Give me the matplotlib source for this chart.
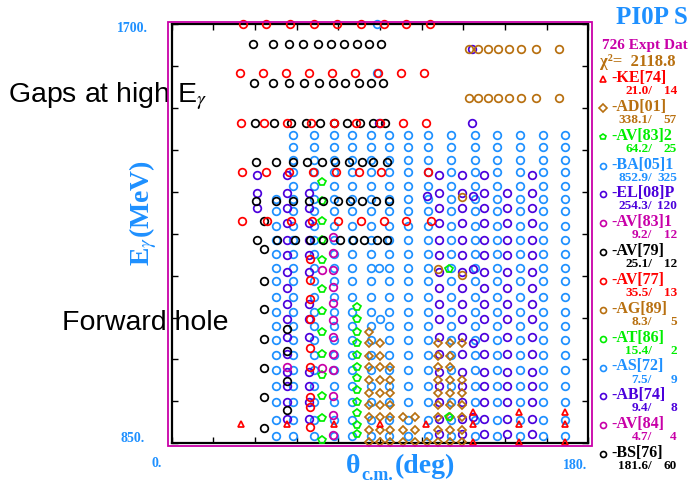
import matplotlib
matplotlib.use("Agg")
import matplotlib.pyplot as plt
from matplotlib.patches import Rectangle

plt.rcParams['mathtext.fontset'] = 'stix'
SERIF = 'Liberation Serif'
SANS = 'Liberation Sans'

BLUE = '#1E90FF'
VIOLET = '#4B00DC'
MAGENTA = '#C800A8'
BROWN = '#B87010'
GREEN = '#00EE00'
RED = '#FF0000'
BLACK = '#000000'

# ---------------- data (theta in deg, E_gamma in MeV) ----------------
# BA[05]1 : regular grid of angles / energies
ba_angles = [45, 52.5, 61.5, 70, 78, 86, 94, 102, 110.5, 120.5, 131, 140.5, 150.5, 160.5, 170]
ba_energies = [1475, 1450, 1425, 1400, 1372, 1345, 1320, 1290, 1263, 1234, 1205, 1178,
               1147, 1117, 1088, 1059, 1028, 998, 967, 933, 897, 865]
ba_first_full_row = 1345          # rows at or below this energy include 45 deg

# AS[72] (blue)
as_theta = [88.5, 88.5, 89.5, 90.0]
as_energy = [1700, 1600, 1205, 1101]

# EL[08]P (violet) : energies per angle
el_left = {
    36.9: [1394, 1358, 1327],
    49.8: [1394, 1358, 1327, 1296, 1263, 1232, 1197, 1165, 1132, 1101, 1065, 1032, 994, 967, 934, 900],
    59.5: [1358, 1327, 1296, 1263, 1232, 1197, 1132, 1101, 1065, 994, 967, 934, 900],
}
el_right_angles = [115.4, 125.3, 134.8, 144.7, 155.5]
el_right_energies = [1394, 1358, 1327, 1296, 1263, 1232, 1197, 1165, 1132, 1101,
                     1065, 1032, 994, 967, 934, 900, 869]

# AB[74] (violet)
ab_theta = [110.4, 130.2, 129.9, 129.9, 89.6, 130.0, 130.0, 130.0]
ab_energy = [1351, 1351, 1500, 1650, 1500, 1203, 1053, 904]

# BS[76] (black) : rows
bs_rows = {
    1660: [35.2, 43.6, 50.5, 56.8, 63.2, 68.9, 74.4, 79.9, 85.1, 90.5],
    1580: [35.5, 43.6, 50.8, 57.1, 63.5, 69.5, 74.9, 80.7, 85.9, 91.3],
    1500: [35.8, 44.2, 51.4, 58.0, 64.0, 70.1, 75.8, 81.3, 86.8, 92.2],
    1421: [36.3, 44.9, 52.2, 58.3, 65.0, 70.4, 76.7, 82.0, 87.0, 93.1],
    1341: [36.4, 45.0, 52.5, 59.1, 65.4, 71.9, 77.0, 82.3, 88.2, 93.7],
    1262: [36.7, 45.3, 53.2, 59.7, 65.4, 72.7, 78.1, 83.0, 88.5, 93.1],
}

# AV[79] (black)
av79_theta = [40.0, 40.0, 40.0, 40.0, 40.0, 40.0, 40.0, 40.0, 49.6, 49.6, 49.6, 49.6]
av79_energy = [1300, 1243, 1180, 1122, 1062, 1003, 943, 882, 1081, 1037, 977, 917]

# AV[77] (red circles)
av77_rows = {
    1700: [30.6, 40.7, 51.1, 61.4, 71.5, 81.6, 91.7, 101.4, 111.5],
    1600: [29.5, 39.3, 49.3, 59.3, 69.2, 79.2, 89.3, 99.1, 109.0],
    1500: [29.8, 39.8, 49.6, 60.0, 70.0, 79.8, 89.9, 100.0, 109.8],
    1400: [30.2, 40.6, 50.6, 60.9, 70.8, 80.9, 90.6, 110.8],
    1301: [30.2, 41.0, 51.4, 60.4, 71.7, 81.6, 91.7, 101.4, 111.8],
}
red_col_theta = 59.7
red_col_energy = [1223, 1182, 1142, 1101, 1043, 1004, 944, 923, 884]

# KE[74] (red triangles)
ke_theta = [30, 50, 70, 90, 110, 130, 130, 130, 150, 150, 150, 170, 170, 170]
ke_energy = [889, 889, 889, 889, 889, 914, 889, 853, 914, 889, 853, 914, 889, 853]

# AD[01] (brown diamonds) : angles per energy
ad_rows = {
    1076: [85.3],
    1053: [85.3, 89.9, 115.1, 120.1, 125.2],
    1027: [85.3, 89.9, 115.1, 120.1],
    1004: [85.3, 89.9, 94.5, 115.1, 120.1],
    978: [85.3, 89.9, 94.5, 115.1, 120.1, 125.2],
    951: [85.3, 89.9, 94.5, 115.1, 120.1, 125.2],
    928: [85.3, 89.9, 94.5, 115.1, 120.1, 125.2],
    903: [85.3, 89.9, 94.5, 100.0, 105.0, 115.1, 120.1, 125.2],
    877: [85.3, 89.9, 94.5, 100.0, 105.0, 115.1, 120.1, 125.2],
    853: [85.3, 89.9, 94.5, 100.0, 105.0, 110.1, 115.1, 120.1, 125.2],
}

# brown circles (AG[89] and high-energy rows)
brown_top_angles = [128.5, 132.3, 136.6, 140.9, 145.6, 151.1, 157.5, 167.2]
brown_top_energies = [1650, 1549]
ag_theta = [125.2, 115.1, 125.2]
ag_energy = [1350, 1203, 1191]

# AV[83]2 / AT[86] (green)
green_theta = [65.0] * 13 + [79.9] * 12 + [119.8, 119.8]
green_energy = [1380, 1341, 1301, 1262, 1221, 1162, 1119, 1076, 1032, 988, 946, 901, 857,
                1127, 1102, 1076, 1053, 1029, 1005, 982, 958, 934, 912, 887, 869,
                1203, 904]

# AV[83]1 / AV[84] (magenta)
mag_theta = [69.8] * 12 + [65.0, 65.0, 49.8]
mag_energy = [1269, 1235, 1201, 1167, 1134, 1100, 1066, 1032, 998, 946, 907, 867,
              1201, 1002, 1004]

legend_names = ['-KE[74]', '-AD[01]', '-AV[83]2', '-BA[05]1', '-EL[08]P', '-AV[83]1', '-AV[79]',
                '-AV[77]', '-AG[89]', '-AT[86]', '-AS[72]', '-AB[74]', '-AV[84]', '-BS[76]']
legend_chi = ['21.0', '338.1', '64.2', '852.9', '254.3', '9.2', '25.1',
              '35.5', '8.3', '15.4', '7.5', '9.4', '4.7', '181.6']
legend_npts = ['14', '57', '25', '325', '120', '12', '12', '13', '5', '2', '9', '8', '4', '60']
legend_colors = [RED, BROWN, GREEN, BLUE, VIOLET, MAGENTA, BLACK, RED, BROWN, GREEN, BLUE,
                 VIOLET, MAGENTA, BLACK]
legend_markers = ['^', 'D', 'p', 'o', 'o', 'o', 'o', 'o', 'o', 'o', 'o', 'o', 'o', 'o']

n_data = 726
chi2_total = 2118.8

# ---------------- figure ----------------
W, H = 691, 486
fig = plt.figure(figsize=(W / 100, H / 100), dpi=100)
ax = fig.add_axes([171.7 / W, 1 - 443.3 / H, 416.7 / W, 419.3 / H])
ax.set_xlim(0, 180)
ax.set_ylim(850, 1700)

circ = dict(ls='none', marker='o', mfc='none', ms=5.5, mew=1.25, clip_on=False)

# BA grid
bx, by = [], []
for e in ba_energies:
    for a in ba_angles:
        if a == ba_angles[0] and e > ba_first_full_row:
            continue
        bx.append(a)
        by.append(e)
ax.plot(bx, by, mec=BLUE, zorder=2, **circ)
ax.plot(as_theta, as_energy, mec=BLUE, zorder=2, **circ)

# violet
vx, vy = [], []
for a, es in el_left.items():
    vx += [a] * len(es)
    vy += es
for a in el_right_angles:
    for e in el_right_energies:
        if a == 144.7 and e == 1394:
            continue
        vx.append(a)
        vy.append(e)
ax.plot(vx, vy, mec=VIOLET, zorder=3, **circ)
ax.plot(ab_theta, ab_energy, mec=VIOLET, zorder=3, **circ)

# brown
tx, ty = [], []
for e in brown_top_energies:
    tx += brown_top_angles
    ty += [e] * len(brown_top_angles)
ax.plot(tx, ty, mec=BROWN, zorder=3, **circ)
ax.plot(ag_theta, ag_energy, mec=BROWN, zorder=3, **circ)
dx, dy = [], []
for e, angs in ad_rows.items():
    dx += angs
    dy += [e] * len(angs)
ax.plot(dx, dy, ls='none', marker='D', mfc='none', mec=BROWN, ms=4.4, mew=1.25,
        clip_on=False, zorder=3)

# green / magenta
ax.plot(green_theta, green_energy, ls='none', marker='p', mfc='none', mec=GREEN, ms=5.8,
        mew=1.25, clip_on=False, zorder=4)
ax.plot(mag_theta, mag_energy, mec=MAGENTA, zorder=4, **circ)

# black
kx, ky = [], []
for e, angs in bs_rows.items():
    kx += angs
    ky += [e] * len(angs)
ax.plot(kx, ky, mec=BLACK, zorder=4, **circ)
ax.plot(av79_theta, av79_energy, mec=BLACK, zorder=4, **circ)

# red
rx, ry = [], []
for e, angs in av77_rows.items():
    rx += angs
    ry += [e] * len(angs)
rx += [red_col_theta] * len(red_col_energy)
ry += red_col_energy
ax.plot(rx, ry, mec=RED, zorder=5, **circ)
ax.plot(ke_theta, ke_energy, ls='none', marker='^', mfc='none', mec=RED, ms=4.5, mew=1.25,
        clip_on=False, zorder=5)

# axes styling
for s in ax.spines.values():
    s.set_linewidth(1.6)
    s.set_color('black')
ax.set_xticks(range(0, 181, 18))
ax.set_yticks(range(850, 1701, 85))
ax.tick_params(direction='in', length=4.5, width=1, top=True, right=True,
               labelbottom=False, labelleft=False)

tick_font = dict(family=SERIF, weight='bold', size=10, color=BLUE)
ax.annotate('0.', xy=(0, 850), xycoords='data', xytext=(-15, -20), textcoords='offset pixels',
            ha='center', va='center', **tick_font)
ax.annotate('180.', xy=(180, 850), xycoords='data', xytext=(-13, -22), textcoords='offset pixels',
            ha='center', va='center', **tick_font)
ax.annotate('850.', xy=(0, 850), xycoords='data', xytext=(-27, 5), textcoords='offset pixels',
            ha='right', va='center', **tick_font)
ax.annotate('1700.', xy=(0, 1700), xycoords='data', xytext=(-24, -5), textcoords='offset pixels',
            ha='right', va='center', **tick_font)

fx = lambda p: p / W
fy = lambda p: 1 - p / H

# magenta frame
fig.patches.append(Rectangle((fx(167.5), fy(445.5)), (592 - 167.5) / W, (445.5 - 22) / H,
                             transform=fig.transFigure, fill=False, ec=MAGENTA, lw=1.3, zorder=10))

# axis labels
fig.text(fx(143), fy(213), r'E$_{\gamma}$(MeV)', rotation=90, ha='center', va='center',
         family=SERIF, weight='bold', size=20, color=BLUE)

renderer = fig.canvas.get_renderer()
lab_font = dict(family=SERIF, weight='bold', color=BLUE, va='baseline', ha='left')
xstart = 346
t1 = fig.text(fx(xstart), fy(473), 'θ', size=20, **lab_font)
w1 = t1.get_window_extent(renderer).width
t2 = fig.text(fx(xstart + w1 + 1), fy(480), 'c.m.', size=13, **lab_font)
w2 = t2.get_window_extent(renderer).width
fig.text(fx(xstart + w1 + w2 + 2), fy(473), '(deg)', size=20, **lab_font)

# annotations
fig.text(fx(7.5), fy(102), r'Gaps at high E$_{\gamma}$', ha='left', va='baseline',
         family=SANS, size=20.5, color='black')
fig.text(fx(62), fy(330), 'Forward hole', ha='left', va='baseline',
         family=SANS, size=20.5, color='black')

# right-hand legend
fig.text(fx(652), fy(17), 'PI0P S', ha='center', va='center', family=SERIF, weight='bold',
         size=18, color=BLUE)
fig.text(fx(602), fy(45), f'{n_data} Expt Dat', ha='left', va='center', family=SERIF,
         weight='bold', size=11, color=MAGENTA)
fig.text(fx(600), fy(62), f'χ²=  {chi2_total}', ha='left', va='center', family=SERIF,
         weight='bold', size=12, color=BROWN)

y0, dy_ = 78.0, 28.85
for i in range(len(legend_names)):
    yy = y0 + i * dy_
    c = legend_colors[i]
    fig.lines.append(plt.Line2D([fx(603)], [fy(yy + 1)], transform=fig.transFigure,
                                ls='none', marker=legend_markers[i], mfc='none', mec=c,
                                ms=4.3, mew=1.2))
    fig.text(fx(611), fy(yy), legend_names[i], ha='left', va='center', family=SERIF,
             weight='bold', size=11.5, color=c)
    fig.text(fx(652), fy(yy + 13), legend_chi[i] + '/', ha='right', va='center',
             family=SERIF, weight='bold', size=9.5, color=c)
    fig.text(fx(677), fy(yy + 13), legend_npts[i], ha='right', va='center',
             family=SERIF, weight='bold', size=9.5, color=c)

fig.savefig('out.png', dpi=100)
